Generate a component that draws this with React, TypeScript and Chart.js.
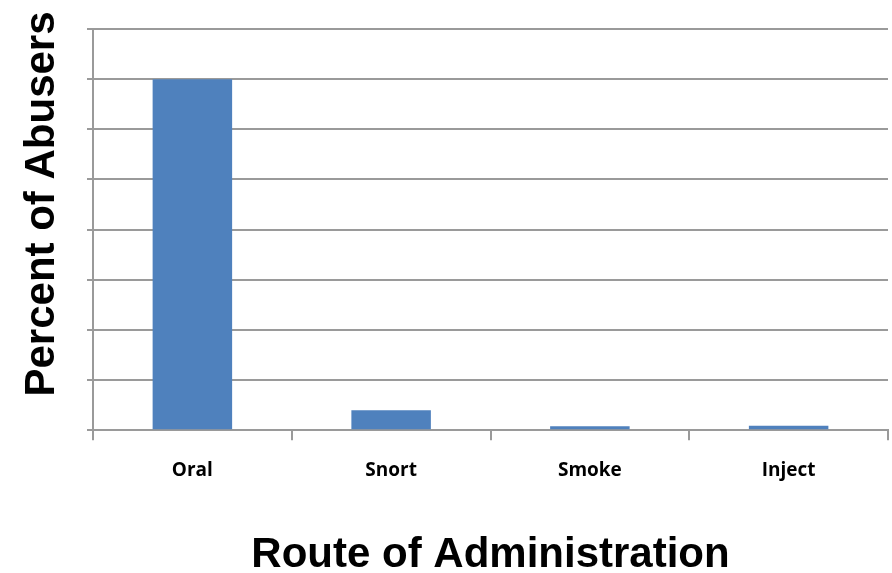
import React, { useEffect, useRef } from "react";
import { Chart, registerables } from "chart.js";

Chart.register(...registerables);

const categories = ["Oral", "Snort", "Smoke", "Inject"];
const percentValues = [70, 4.0, 0.8, 0.9];
const yMax = 80;
const yStep = 10;
const yTitle = "Percent of Abusers";
const xTitle = "Route of Administration";

const GRID = "#9a9a9a";

const titlePlugin = {
  id: "axisTitles",
  afterDraw(chart: any) {
    const ctx = chart.ctx;
    const area = chart.chartArea;
    ctx.save();
    ctx.fillStyle = "#000";
    ctx.font = "bold 42px 'Liberation Sans', Arial, sans-serif";
    ctx.textAlign = "center";
    ctx.textBaseline = "middle";
    ctx.translate(42, 204);
    ctx.rotate(-Math.PI / 2);
    ctx.fillText(yTitle, 0, 0);
    ctx.restore();
    ctx.save();
    ctx.fillStyle = "#000";
    ctx.font = "bold 42px 'Liberation Sans', Arial, sans-serif";
    ctx.textAlign = "center";
    ctx.textBaseline = "middle";
    ctx.fillText(xTitle, (area.left + area.right) / 2, 555);
    ctx.restore();
  },
};

export default function App() {
  const ref = useRef<HTMLCanvasElement | null>(null);
  useEffect(() => {
    document.body.style.margin = "0";
    if (!ref.current) return;
    const chart = new Chart(ref.current, {
      type: "bar",
      data: {
        labels: categories,
        datasets: [
          {
            data: percentValues,
            backgroundColor: "#4F81BD",
            borderWidth: 0,
            barPercentage: 0.4,
            categoryPercentage: 1,
          },
        ],
      },
      options: {
        responsive: false,
        animation: false,
        devicePixelRatio: 1,
        layout: { padding: { left: 87, top: 29, right: 4, bottom: 72 } },
        plugins: {
          legend: { display: false },
          tooltip: { enabled: false },
        },
        scales: {
          x: {
            grid: {
              display: true,
              drawOnChartArea: false,
              drawTicks: true,
              tickLength: 10,
              color: GRID,
              lineWidth: 2,
              offset: true,
            },
            border: { display: true, color: GRID, width: 2 },
            ticks: {
              color: "#000",
              padding: 19,
              font: { family: "'Open Sans', sans-serif", size: 19, weight: "bold" },
            },
          },
          y: {
            min: 0,
            max: yMax,
            grid: {
              color: GRID,
              lineWidth: 2,
              tickLength: 6,
              drawTicks: true,
            },
            border: { display: true, color: GRID, width: 2 },
            ticks: { display: false, stepSize: yStep },
          },
        },
      },
      plugins: [titlePlugin],
    } as any);
    return () => chart.destroy();
  }, []);
  return <canvas ref={ref} width={892} height={573} style={{ display: "block" }} />;
}
